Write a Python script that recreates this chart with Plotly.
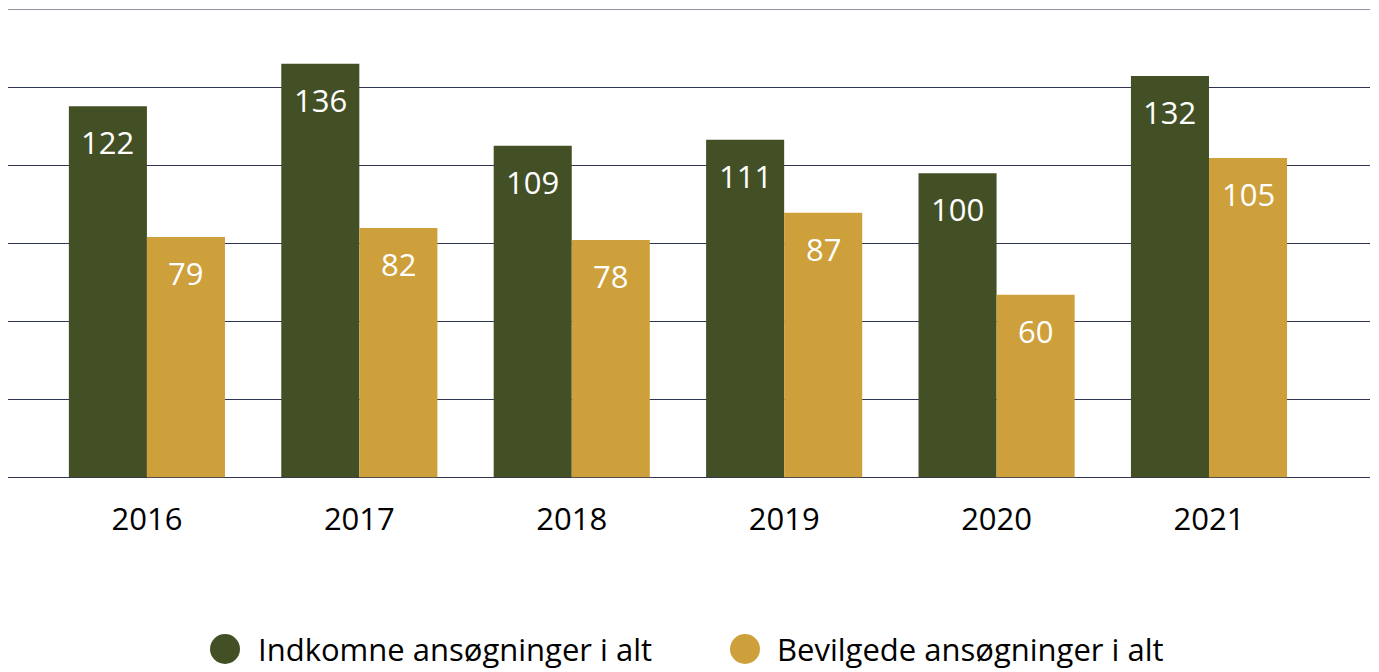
import plotly.graph_objects as go

years = ["2016", "2017", "2018", "2019", "2020", "2021"]
indkomne = [122, 136, 109, 111, 100, 132]
bevilgede = [79, 82, 78, 87, 60, 105]
series_names = ["Indkomne ansøgninger i alt", "Bevilgede ansøgninger i alt"]

GREEN = "#435025"
GOLD = "#CDA03C"
FONT = "Open Sans"
YMAX = 154

fig = go.Figure()
for i, (name, vals, col) in enumerate([(series_names[0], indkomne, GREEN), (series_names[1], bevilgede, GOLD)]):
    fig.add_trace(go.Bar(
        x=years, y=vals, name=name, marker=dict(color=col, line=dict(width=0)),
        showlegend=False, offsetgroup=str(i),
    ))

grid = [YMAX * i / 6 for i in range(6)]

W, H = 1371, 664
fig.update_layout(
    width=W, height=H,
    margin=dict(l=0, r=9, t=1, b=193),
    paper_bgcolor="white", plot_bgcolor="white",
    barmode="group", bargap=0.265, bargroupgap=0,
    font=dict(family=FONT, color="black"),
    xaxis=dict(
        range=[-0.654, 5.758], showgrid=False, showline=False, zeroline=False,
        ticks="", tickfont=dict(size=31, family=FONT, color="black"),
        ticklabelstandoff=19,
    ),
    yaxis=dict(
        range=[-0.6, YMAX], tickvals=grid, showticklabels=False,
        showgrid=True, gridcolor="#2f3552", gridwidth=1,
        zeroline=False, showline=False,
    ),
)

# top gridline (lighter)
fig.add_shape(type="line", xref="paper", yref="y", x0=0, x1=1, y0=YMAX, y1=YMAX,
              line=dict(color="#6b7385", width=1.5), layer="below")

# value labels inside the bar tops
bw = (1 - 0.265) / 2
for i, vals in enumerate([indkomne, bevilgede]):
    off = -bw / 2 if i == 0 else bw / 2
    for k, v in enumerate(vals):
        fig.add_annotation(x=k + off, y=v, xref="x", yref="y", text=str(v), showarrow=False,
                           yshift=-36, yanchor="middle", xanchor="center",
                           font=dict(size=31, family=FONT, color="white"))

# custom legend with round markers
plot_w = W - 9
legend_items = [(217 / plot_w, 248 / plot_w, series_names[0], GREEN),
                (737 / plot_w, 767 / plot_w, series_names[1], GOLD)]
ly = (469 - 639) / 470
for cx, tx, name, col in legend_items:
    fig.add_shape(type="circle", xref="paper", yref="paper", xsizemode="pixel", ysizemode="pixel",
                  xanchor=cx, yanchor=ly, x0=-15, x1=15, y0=-15, y1=15,
                  fillcolor=col, line=dict(width=0))
    fig.add_annotation(xref="paper", yref="paper", x=tx, y=ly, text=name, showarrow=False,
                       xanchor="left", yanchor="middle",
                       font=dict(size=31, family=FONT, color="black"))

fig.write_html("out.html")
